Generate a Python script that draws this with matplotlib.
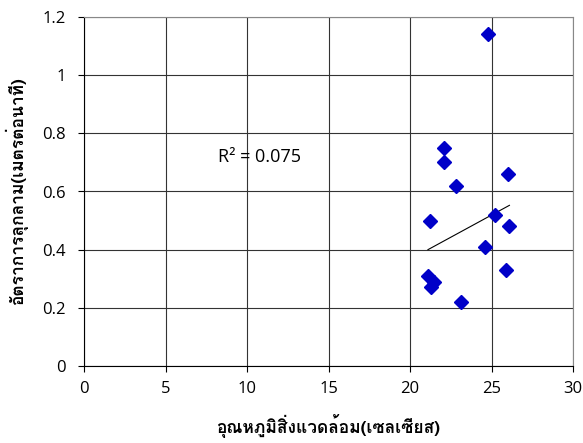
import numpy as np
import matplotlib
matplotlib.use("Agg")
import matplotlib.pyplot as plt
from matplotlib import font_manager
from matplotlib.ft2font import FT2Font

# air temperature (C) vs fire spread rate (m/min)
temperature = [24.8, 22.1, 22.1, 26.0, 22.8, 21.2, 25.2, 26.1, 24.6, 25.9, 21.1, 21.5, 21.3, 23.1]
spread_rate = [1.14, 0.75, 0.70, 0.66, 0.62, 0.50, 0.52, 0.48, 0.41, 0.33, 0.31, 0.29, 0.27, 0.22]
# trendline as shown in the chart
trend_slope = 0.0305
trend_intercept = -0.2436
r2_label = "R² = 0.075"
x_label = "อุณหภูมิสิ่งแวดล้อม(เซลเซียส)"
y_label = "อัตราการลุกลาม(เมตรต่อนาที)"


def find_thai_font():
    # look for any installed font that has Thai glyphs
    for f in font_manager.fontManager.ttflist:
        try:
            cmap = FT2Font(f.fname).get_charmap()
        except Exception:
            continue
        if 0x0E2D in cmap and 0x0E38 in cmap:
            return f.name
    return None


thai_font = find_thai_font()
label_family = [thai_font, "DejaVu Sans"] if thai_font else ["DejaVu Sans"]

plt.rcParams['font.family'] = ['Open Sans', 'DejaVu Sans']

fig = plt.figure(figsize=(5.83, 4.43), dpi=100)
ax = fig.add_axes([84 / 583, 1 - 366 / 443, 489 / 583, 349 / 443])

ax.plot(temperature, spread_rate, linestyle='none', marker='D', markersize=7,
        color='#0000c8', zorder=3)

xs = np.array([min(temperature), max(temperature)])
ax.plot(xs, trend_slope * xs + trend_intercept, color='black', linewidth=0.8, zorder=2)

ax.text(8.2, 0.72, r2_label, fontsize=13, va='center', ha='left')

ax.set_xlim(0, 30)
ax.set_ylim(0, 1.2)
ax.set_xticks(range(0, 31, 5))
ax.set_yticks([0, 0.2, 0.4, 0.6, 0.8, 1.0, 1.2])
ax.set_yticklabels(['0', '0.2', '0.4', '0.6', '0.8', '1', '1.2'])
ax.grid(True, color='#333333', linewidth=0.8)
ax.set_axisbelow(True)
for side in ['top', 'right']:
    ax.spines[side].set_color('#888888')
ax.tick_params(labelsize=12, length=4, direction='out')
ax.tick_params(axis='y', pad=9)
ax.tick_params(axis='x', pad=7)

ax.set_xlabel(x_label, family=label_family, fontsize=12.5, fontweight='bold', labelpad=12)
ax.set_ylabel(y_label, family=label_family, fontsize=12.5, fontweight='bold', labelpad=10)

fig.savefig("out.png", dpi=100)
